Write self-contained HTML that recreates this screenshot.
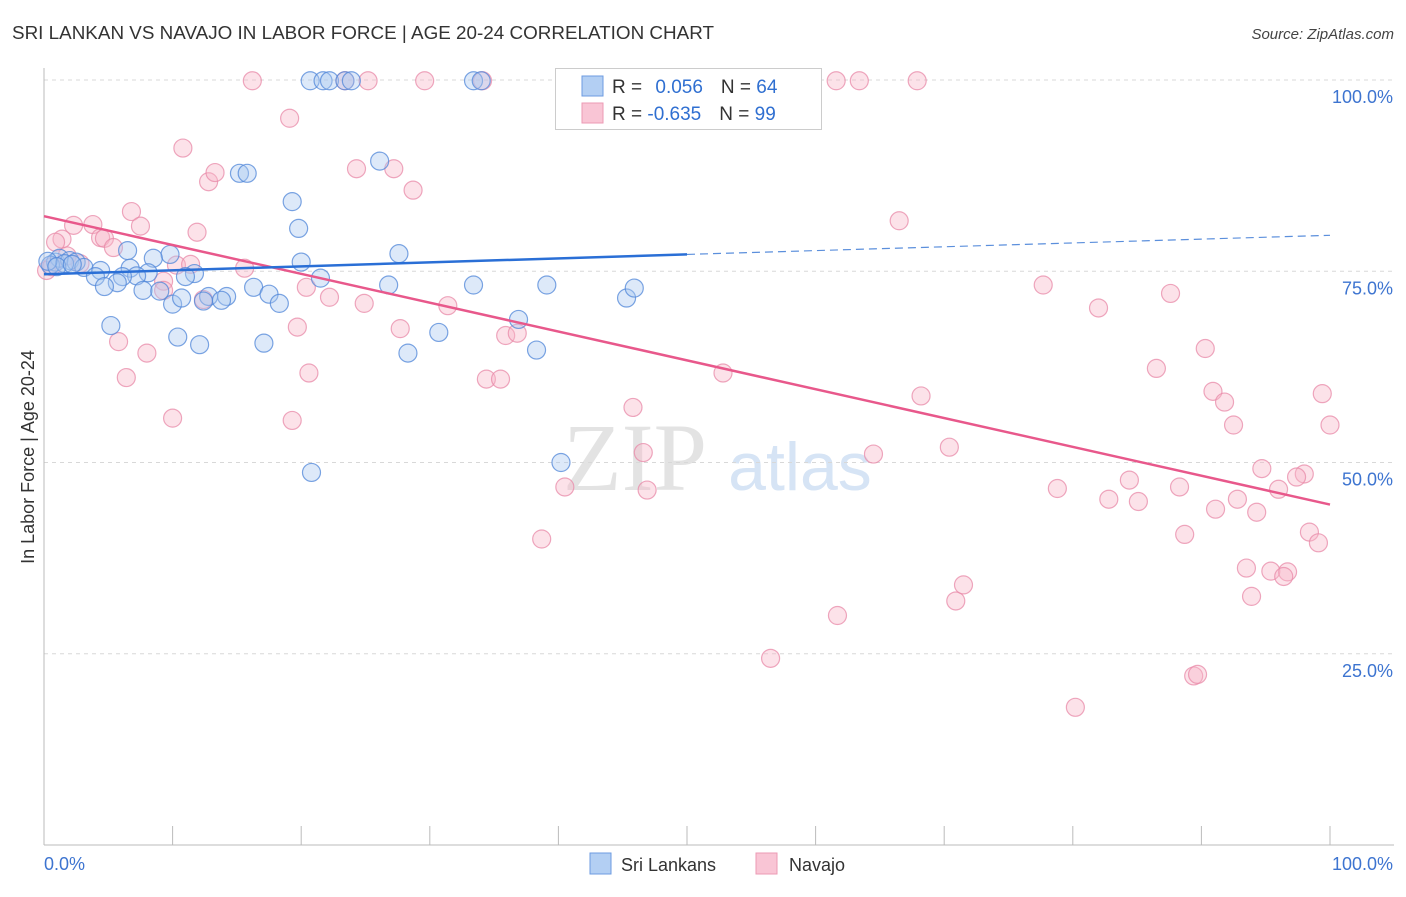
<!DOCTYPE html>
<html><head><meta charset="utf-8"><style>
body{margin:0;background:#fff;font-family:"Liberation Sans",sans-serif}
svg text{font-family:"Liberation Sans",sans-serif}
</style></head><body>
<svg id="chart" width="1406" height="892">
<text x="12" y="39" font-size="18" fill="#333" textLength="702" lengthAdjust="spacingAndGlyphs">SRI LANKAN VS NAVAJO IN LABOR FORCE | AGE 20-24 CORRELATION CHART</text>
<text x="1394" y="39" font-size="15" fill="#444" font-style="italic" text-anchor="end">Source: ZipAtlas.com</text>
<text x="635" y="490" font-size="96" fill="#e3e3e3" font-family="Liberation Serif" text-anchor="middle" style="font-family:'Liberation Serif',serif">ZIP</text>
<text x="800" y="490" font-size="68" fill="#d6e4f5" text-anchor="middle">atlas</text>
<g id="grid"></g><g id="axes"></g><g id="marks"></g>
<text transform="translate(34,457) rotate(-90)" font-size="18" fill="#333" text-anchor="middle">In Labor Force | Age 20-24</text>
<g>
<rect x="555.5" y="68.5" width="266" height="61" fill="#fff" stroke="#ccc"/>
<rect x="582" y="76" width="21" height="20" fill="#b3cff3" stroke="#6d9be0"/>
<rect x="582" y="103" width="21" height="20" fill="#f9c5d5" stroke="#ec9ab4"/>
<text x="612" y="93" font-size="19" fill="#333">R = <tspan fill="#2f6fd1" dx="8">0.056</tspan><tspan fill="#333" dx="18">N = </tspan><tspan fill="#2f6fd1">64</tspan></text>
<text x="612" y="120" font-size="19" fill="#333">R = <tspan fill="#2f6fd1">-0.635</tspan><tspan fill="#333" dx="18">N = </tspan><tspan fill="#2f6fd1">99</tspan></text>
</g>
<g>
<rect x="590" y="853" width="21" height="21" fill="#b3cff3" stroke="#6d9be0"/>
<text x="621" y="871" font-size="18" fill="#333">Sri Lankans</text>
<rect x="756" y="853" width="21" height="21" fill="#f9c5d5" stroke="#ec9ab4"/>
<text x="789" y="871" font-size="18" fill="#333">Navajo</text>
</g>
</svg>
<script>
const yTicks=[100,75,50,25];
const yTickLabels=["100.0%","75.0%","50.0%","25.0%"];
const xTicks=[0,10,20,30,40,50,60,70,80,90,100];
const xTickLabels=["0.0%","100.0%"];
const blueX=[20.7,21.7,22.2,23.4,23.9,33.4,34.0,26.1,15.2,15.8,19.3,19.8,27.6,9.8,6.5,8.5,20.0,0.9,1.2,2.0,2.5,3.1,4.4,6.7,8.1,11.7,11.0,7.2,6.1,4.0,5.7,4.7,7.7,9.0,10.0,10.7,12.8,14.2,13.8,12.4,16.3,17.5,18.3,21.5,26.8,33.4,39.1,45.3,45.9,36.9,5.2,10.4,12.1,17.1,28.3,30.7,38.3,20.8,40.2,0.5,1.6,0.3,1.0,2.2];
const blueY=[99.9,99.9,99.9,99.9,99.9,99.9,99.9,89.4,87.8,87.8,84.1,80.6,77.3,77.2,77.7,76.7,76.2,76.2,76.7,76.4,76.2,75.5,75.1,75.4,74.8,74.7,74.3,74.4,74.3,74.3,73.5,73.0,72.5,72.4,70.7,71.5,71.7,71.7,71.2,71.1,72.9,72.0,70.8,74.1,73.2,73.2,73.2,71.5,72.8,68.7,67.9,66.4,65.4,65.6,64.3,67.0,64.7,48.7,50.0,75.8,76.0,76.3,75.6,75.9];
const pinkX=[16.2,23.4,25.2,29.6,34.1,53.1,61.6,63.4,67.9,19.1,10.8,12.8,13.3,24.3,27.2,28.7,66.5,6.8,7.5,3.8,2.3,1.4,0.9,4.4,4.7,5.4,11.9,10.3,11.4,15.6,2.8,9.3,9.3,12.4,22.2,20.4,24.9,31.4,19.7,27.7,35.9,36.8,5.8,8.0,6.4,20.6,34.4,35.5,52.8,10.0,19.3,45.8,68.2,46.6,64.5,70.4,40.5,46.9,38.7,61.7,56.5,70.9,71.5,77.7,82.0,87.6,90.3,86.5,90.9,91.8,92.5,99.4,100,94.7,98.0,97.4,84.4,78.8,88.3,82.8,85.1,92.8,96.0,91.1,94.3,88.7,98.4,99.1,93.5,95.4,96.7,96.4,93.9,89.4,89.7,80.2,0.2,0.6,1.8];
const pinkY=[99.9,99.9,99.9,99.9,99.9,99.9,99.9,99.9,99.9,95.0,91.1,86.7,87.9,88.4,88.4,85.6,81.6,82.8,80.9,81.1,81.0,79.2,78.8,79.4,79.3,78.1,80.1,75.8,75.9,75.4,76.0,73.7,72.5,71.3,71.6,72.9,70.8,70.5,67.7,67.5,66.6,66.9,65.8,64.3,61.1,61.7,60.9,60.9,61.7,55.8,55.5,57.2,58.7,51.3,51.1,52.0,46.8,46.4,40.0,30.0,24.4,31.9,34.0,73.2,70.2,72.1,64.9,62.3,59.3,57.9,54.9,59.0,54.9,49.2,48.5,48.1,47.7,46.6,46.8,45.2,44.9,45.2,46.5,43.9,43.5,40.6,40.9,39.5,36.2,35.8,35.7,35.1,32.5,22.1,22.3,18.0,75.1,75.6,77.0];
const blueTrendX=[0,50,100];
const blueTrendY=[74.6,77.2,79.7];
const pinkTrendX=[0,100];
const pinkTrendY=[82.2,44.5];
const NS='http://www.w3.org/2000/svg';
const X0=44,X1=1330,Y0=845,Y100=80;
const sx=v=>X0+(X1-X0)*v/100;
const sy=v=>Y0-(Y0-Y100)*v/100;
function mk(tag,attrs,parent){const e=document.createElementNS(NS,tag);for(const k in attrs)e.setAttribute(k,attrs[k]);document.getElementById(parent).appendChild(e);return e;}
yTicks.forEach((t,i)=>{
 const l=mk('line',{x1:X0,x2:1394,y1:sy(t),y2:sy(t),stroke:'#d8d8d8','stroke-dasharray':'4,4'},'grid');
 
 
 const tx=mk('text',{x:1393,y:sy(t)+23,'font-size':18,fill:'#3d74d0','text-anchor':'end'},'grid');
 tx.textContent=yTickLabels[i];
 
 
});
const ax=mk('line',{x1:X0,x2:X0,y1:68,y2:Y0,stroke:'#bbb'},'axes');


const bx=mk('line',{x1:X0,x2:1394,y1:Y0,y2:Y0,stroke:'#bbb'},'axes');


xTicks.forEach(t=>{
 const l=mk('line',{x1:sx(t),x2:sx(t),y1:826,y2:Y0,stroke:'#bbb'},'axes');
 
 
});
const xl0=mk('text',{x:44,y:870,'font-size':18,fill:'#3d74d0'},'axes');xl0.textContent=xTickLabels[0];


const xl1=mk('text',{x:1393,y:870,'font-size':18,fill:'#3d74d0','text-anchor':'end'},'axes');xl1.textContent=xTickLabels[1];


function dots(xs,ys,fill,stroke,name){xs.forEach((x,i)=>{
 const c=mk('circle',{cx:sx(x),cy:sy(ys[i]),r:9,fill:fill,'fill-opacity':0.4,stroke:stroke,'stroke-width':1.2,'stroke-opacity':0.75},'marks');
 
 
});}
dots(pinkX,pinkY,'#f7b6c9','#e88aa8','navajo-point');
dots(blueX,blueY,'#a9c7f0','#4f86d8','sri-lankan-point');
const pt=mk('line',{x1:sx(pinkTrendX[0]),y1:sy(pinkTrendY[0]),x2:sx(pinkTrendX[1]),y2:sy(pinkTrendY[1]),stroke:'#e8588b','stroke-width':2.5},'marks');


const bt=mk('line',{x1:sx(blueTrendX[0]),y1:sy(blueTrendY[0]),x2:sx(blueTrendX[1]),y2:sy(blueTrendY[1]),stroke:'#2a6fd6','stroke-width':2.5},'marks');


const bd=mk('line',{x1:sx(blueTrendX[1]),y1:sy(blueTrendY[1]),x2:sx(blueTrendX[2]),y2:sy(blueTrendY[2]),stroke:'#5b8fdc','stroke-width':1.2,'stroke-dasharray':'8,5'},'marks');


</script>
</body></html>
